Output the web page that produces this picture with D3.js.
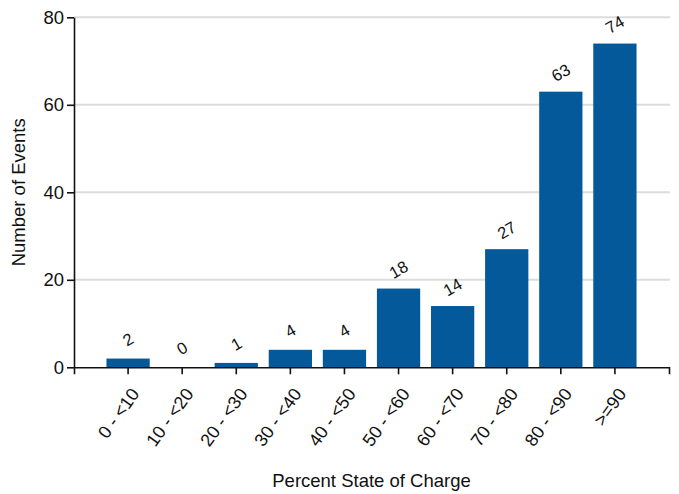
<!DOCTYPE html>
<html><head><meta charset="utf-8">
<script src="https://cdn.jsdelivr.net/npm/d3@7"></script>
<style>body{margin:0;background:#fff;} text{font-family:"Liberation Sans",Arial,sans-serif;}</style>
</head><body><svg id="c" width="679" height="494"></svg>
<script>
const categories = ["0 - <10","10 - <20","20 - <30","30 - <40","40 - <50","50 - <60","60 - <70","70 - <80","80 - <90",">=90"];
const values = [2,0,1,4,4,18,14,27,63,74];
const yTicks = [0,20,40,60,80];
const xTitle = "Percent State of Charge";
const yTitle = "Number of Events";

const svg = d3.select("#c");
const m = {l:74, r:669, t:17.3, b:367.3};
const x = d3.scaleBand().domain(categories).range([m.l, m.r]).paddingInner(0.2).paddingOuter(0.6);
const y = d3.scaleLinear().domain([0,80]).range([m.b, m.t]);

// gridlines
svg.append("g").selectAll("line").data(yTicks.filter(d=>d>0)).join("line")
  .attr("x1", m.l).attr("x2", m.r+1).attr("y1", d=>y(d)).attr("y2", d=>y(d))
  .attr("stroke","#dcdcdc").attr("stroke-width",2);

// bars
svg.append("g").selectAll("rect").data(values).join("rect")
  .attr("x",(d,i)=>x(categories[i])).attr("width",x.bandwidth())
  .attr("y",d=>y(d)).attr("height",d=>y(0)-y(d))
  .attr("fill","#03599a");

// value labels
svg.append("g").selectAll("text").data(values).join("text")
  .attr("transform",(d,i)=>`translate(${x(categories[i])+x.bandwidth()/2},${y(d)-19}) rotate(-30)`)
  .attr("text-anchor","middle").attr("dy","0.35em")
  .attr("font-size",16.5).attr("fill","#111").text(d=>d);

// y axis
const ya = svg.append("g").attr("transform",`translate(${m.l},0)`)
  .call(d3.axisLeft(y).tickValues(yTicks).tickSize(7).tickPadding(3).tickSizeOuter(0));
ya.selectAll("text").attr("font-size",18.5).attr("fill","#111").style("font-family","'Liberation Sans',Arial,sans-serif");
ya.selectAll("line,path").attr("stroke","#111").attr("stroke-width",1.6);

// x axis
const xa = svg.append("g").attr("transform",`translate(0,${m.b})`)
  .call(d3.axisBottom(x).tickSize(7).tickSizeOuter(7));
xa.selectAll("line,path").attr("stroke","#111").attr("stroke-width",1.6);
xa.selectAll("text").attr("font-size",18).attr("fill","#111")
  .style("font-family","'Liberation Sans',Arial,sans-serif")
  .attr("text-anchor","end").attr("dy","0.35em").attr("y",0)
  .attr("transform","translate(7,23) rotate(-54)");

// titles
svg.append("text").attr("x",(m.l+m.r)/2).attr("y",487).attr("text-anchor","middle")
  .attr("font-size",18.5).attr("fill","#111").text(xTitle);
svg.append("text").attr("transform",`translate(25,${(m.t+m.b)/2}) rotate(-90)`)
  .attr("text-anchor","middle").attr("font-size",18.5).attr("fill","#111").text(yTitle);
</script></body></html>
